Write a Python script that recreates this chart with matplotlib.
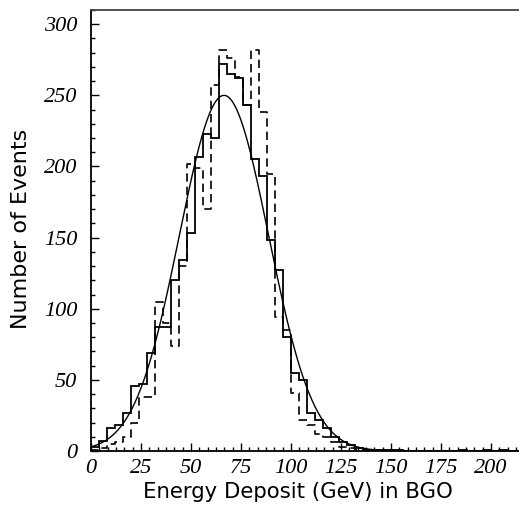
import numpy as np
import matplotlib
matplotlib.use("Agg")
import matplotlib.pyplot as plt
from matplotlib.ticker import MultipleLocator

# Histogram bin edges (4 GeV bins)
bin_width = 4.0
n_bins = 54
edges = np.arange(0, bin_width * (n_bins + 1), bin_width)

# Solid histogram counts
solid = [3, 7, 16, 18, 27, 46, 47, 69, 87, 87, 120, 134, 153, 207, 223, 220,
         272, 265, 262, 243, 205, 193, 148, 127, 80, 55, 50, 27, 22, 16, 10, 6.6,
         4.2, 2, 1, 1, 1, 1, 0.5, 0, 0, 0, 0, 0, 0, 0, 1, 0, 0, 1, 0, 1, 0, 0]

# Dashed histogram counts
dashed = [1, 2, 5, 6.5, 9.6, 20, 38, 38, 105, 90, 74, 130, 202, 199, 170, 257,
          282, 276, 263, 243, 282, 238, 195, 94, 85, 41, 22, 18, 12, 10, 6, 3,
          2, 1, 0.5, 0.5, 0, 0, 0, 0, 0, 0, 0, 0, 0, 0, 0, 0, 0, 0, 0, 0, 0, 0]

# Gaussian fit parameters
fit_amp = 250.0
fit_mean = 66.5
fit_sigma = 22.3
fit_range = (0.0, 214.0)

x_ticks = [0, 25, 50, 75, 100, 125, 150, 175, 200]
y_ticks = [0, 50, 100, 150, 200, 250, 300]

fig = plt.figure(figsize=(5.19, 5.11), dpi=100)
ax = fig.add_axes([91 / 519, 60 / 511, (519 - 91) / 519, (451 - 10) / 511])

def step_xy(counts):
    c = np.asarray(counts, dtype=float)
    xs = np.repeat(edges, 2)[1:-1]
    ys = np.repeat(c, 2)
    xs = np.concatenate([[edges[0]], xs, [edges[-1]]])
    ys = np.concatenate([[0], ys, [0]])
    return xs, ys

xs, ys = step_xy(solid)
ax.plot(xs, ys, color="black", lw=1.3, solid_joinstyle="miter")
xd, yd = step_xy(dashed)
ax.plot(xd, yd, color="black", lw=1.2, linestyle=(0, (5, 3)))

xf = np.linspace(fit_range[0], fit_range[1], 600)
yf = fit_amp * np.exp(-0.5 * ((xf - fit_mean) / fit_sigma) ** 2)
ax.plot(xf, yf, color="black", lw=1.0)

ax.set_xlim(0, 214)
ax.set_ylim(0, 310)
ax.set_xticks(x_ticks)
ax.set_yticks(y_ticks)
ax.xaxis.set_minor_locator(MultipleLocator(25 / 6))
ax.yaxis.set_minor_locator(MultipleLocator(10))
ax.tick_params(which="both", direction="in", top=False, right=False, color="black", width=1.0)
ax.tick_params(which="major", length=6)
ax.tick_params(which="minor", length=3)
ax.tick_params(axis="x", which="major", pad=6)
ax.tick_params(axis="y", which="major", pad=10)
for lab in ax.get_xticklabels() + ax.get_yticklabels():
    lab.set_fontfamily("Liberation Serif")
    lab.set_fontstyle("italic")
    lab.set_fontsize(16)
ax.spines["right"].set_visible(False)
for s in ["left", "bottom", "top"]:
    ax.spines[s].set_linewidth(1.3)
ax.spines["top"].set_color("#444444")

ax.set_xlabel("Energy Deposit (GeV) in BGO", fontsize=15.3, fontfamily="DejaVu Sans")
ax.set_ylabel("Number of Events", fontsize=16, fontfamily="DejaVu Sans")
ax.xaxis.set_label_coords((297.5 - 91) / 428, (451 - 482) / 441)
ax.yaxis.set_label_coords((31 - 91) / 428, (451 - 229) / 441)

fig.savefig("out.png", dpi=100)
